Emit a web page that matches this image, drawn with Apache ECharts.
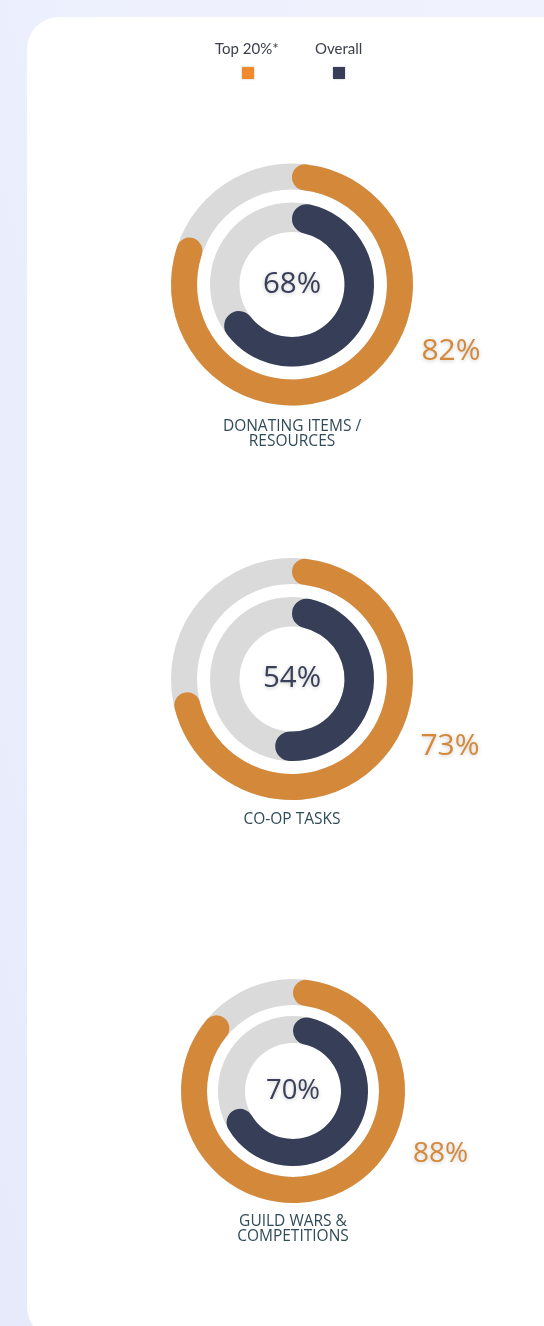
<!DOCTYPE html>
<html>
<head>
<meta charset="utf-8">
<script src="https://cdn.jsdelivr.net/npm/echarts@6/dist/echarts.min.js"></script>
<style>
html,body{margin:0;padding:0;width:544px;height:1326px;overflow:hidden;}
body{background:linear-gradient(75deg,#e6eafb 0%,#eef1fd 60%,#f0f2fd 100%);position:relative;}
#card{position:absolute;left:27px;top:17px;width:545px;height:1322px;background:#fff;border-radius:32px;}
#chart{position:absolute;left:0;top:0;width:544px;height:1326px;}
</style>
</head>
<body>
<div id="card"></div>
<div id="chart"></div>
<script>
const categories = ['DONATING ITEMS /\nRESOURCES', 'CO-OP TASKS', 'GUILD WARS &\nCOMPETITIONS'];
const seriesNames = ['Top 20%*', 'Overall'];
const top20Values = [82, 73, 88];
const overallValues = [68, 54, 70];

const ORANGE = '#d4893a';
const NAVY = '#363e58';
const TRACK = '#dadada';

// layout per donut (styling only)
const layouts = [
  {center:[292,284.5], outer:[95,121], inner:[52.5,82], outerLabel:[451,351], catY:434, centerFont:29.5, outerFont:30},
  {center:[292,679], outer:[95,121], inner:[52.5,82], outerLabel:[450,746.5], catY:820, centerFont:29.5, outerFont:30},
  {center:[293,1091], outer:[86,112], inner:[48,75], outerLabel:[440.5,1154], catY:1229, centerFont:27.5, outerFont:28}
];

const noEmph = {disabled: true};

function track(center, radius) {
  return {
    type: 'pie', center: center, radius: radius, silent: true, z: 1,
    startAngle: 90, label: {show: false}, labelLine: {show: false}, emphasis: noEmph,
    itemStyle: {color: TRACK},
    data: [{value: 1, name: 'track'}]
  };
}

function progress(name, center, radius, color, value, label) {
  const cap = (radius[1] - radius[0]) / 2;
  return {
    type: 'pie', name: name, center: center, radius: radius, z: 2,
    startAngle: 90, clockwise: true, silent: true,
    labelLine: {show: false}, emphasis: noEmph,
    data: [
      {value: value, name: name, itemStyle: {color: color, borderRadius: cap}, label: label},
      {value: 100 - value, name: 'rest', itemStyle: {color: 'transparent'}, label: {show: false}}
    ]
  };
}

const series = [];
const graphics = [
  {type: 'text', x: 215, y: 49.5, style: {text: seriesNames[0], font: '15px Lato', fill: '#3d404c', verticalAlign: 'middle'}},
  {type: 'text', x: 315, y: 49.5, style: {text: seriesNames[1], font: '15px Lato', fill: '#3d404c', verticalAlign: 'middle'}}
];

categories.forEach((cat, i) => {
  const L = layouts[i];
  series.push(track(L.center, L.outer));
  series.push(track(L.center, L.inner));
  series.push(progress(seriesNames[0], L.center, L.outer, ORANGE, top20Values[i], {show: false}));
  series.push(progress(seriesNames[1], L.center, L.inner, NAVY, overallValues[i], {
    show: true, position: 'center', formatter: '{c}%',
    fontFamily: 'Open Sans', fontSize: L.centerFont, fontWeight: 400, color: '#3a4059',
    textShadowColor: 'rgba(0,0,0,0.22)', textShadowBlur: 4, textShadowOffsetY: 1
  }));
  graphics.push({
    type: 'text', x: L.outerLabel[0], y: L.outerLabel[1], z: 10,
    style: {
      text: top20Values[i] + '%', font: L.outerFont + 'px "Open Sans"', fill: ORANGE,
      align: 'center', verticalAlign: 'middle',
      textShadowColor: 'rgba(0,0,0,0.22)', textShadowBlur: 4, textShadowOffsetY: 1
    }
  });
  graphics.push({
    type: 'text', x: L.center[0], y: L.catY, z: 10,
    style: {
      text: cat, font: '15.5px "Open Sans"', fill: '#304b58', lineHeight: 15,
      align: 'center', verticalAlign: 'middle'
    }
  });
});

const chart = echarts.init(document.getElementById('chart'), null, {renderer: 'canvas'});
chart.setOption({
  animation: false,
  backgroundColor: 'transparent',
  legend: {
    left: 242, top: 67, padding: 0,
    itemWidth: 12, itemHeight: 12, itemGap: 79,
    icon: 'rect',
    selectedMode: false,
    formatter: () => '',
    data: [
      {name: seriesNames[0], itemStyle: {color: '#f08a2c', shadowColor: 'rgba(0,0,0,0.25)', shadowBlur: 2}},
      {name: seriesNames[1], itemStyle: {color: NAVY, shadowColor: 'rgba(0,0,0,0.25)', shadowBlur: 2}}
    ]
  },
  graphic: graphics,
  series: series
});
</script>
</body>
</html>
